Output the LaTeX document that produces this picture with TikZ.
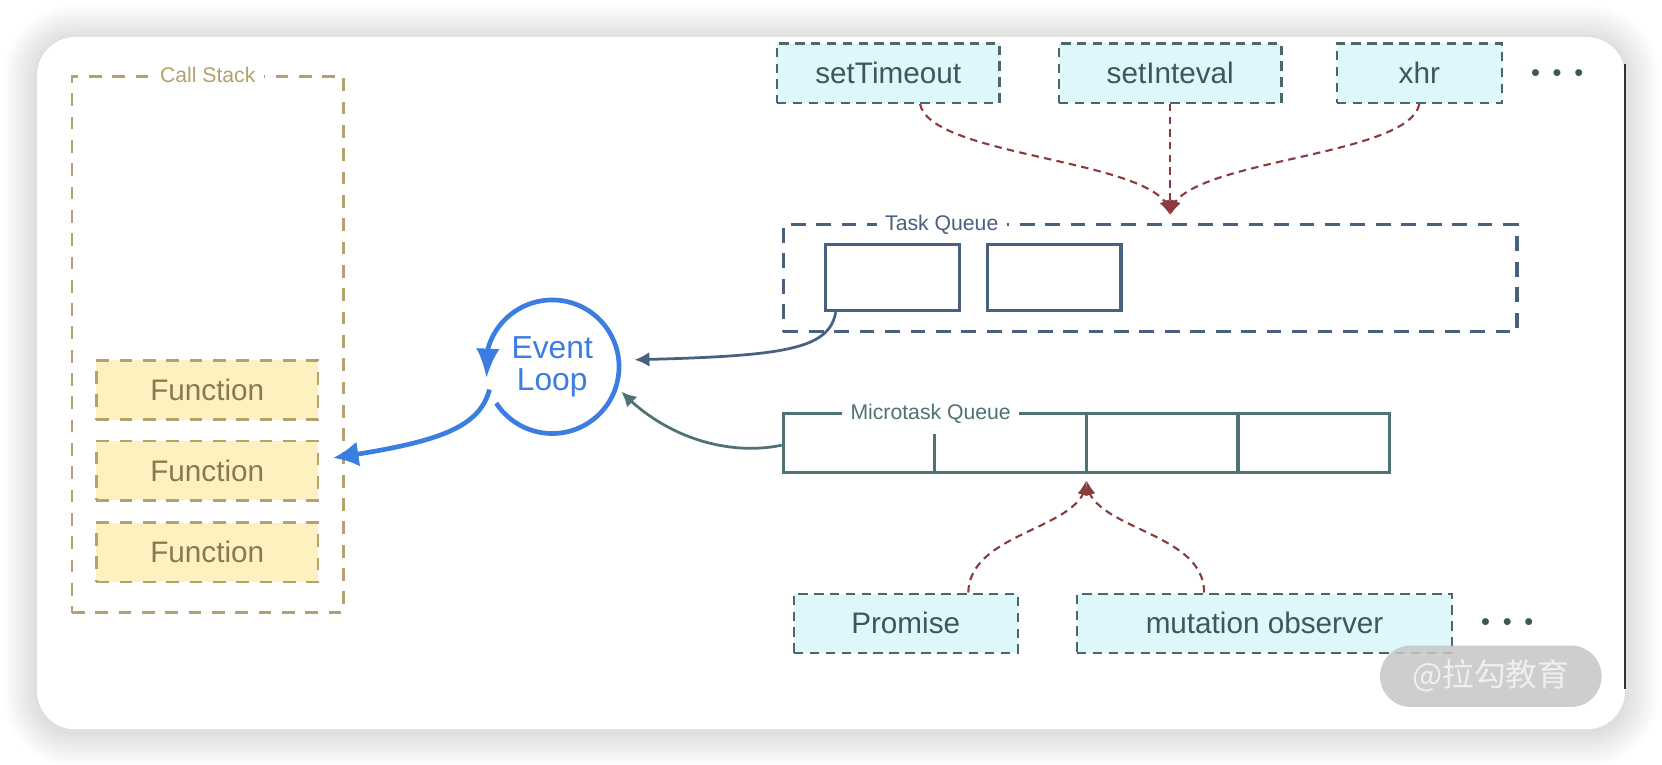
\documentclass[tikz,border=0pt]{standalone}
\usepackage{fontspec}
\setmainfont{Liberation Sans}
\newfontfamily\cjkfont{Noto Sans CJK SC}
\usetikzlibrary{arrows.meta,bending}

\definecolor{stackline}{HTML}{B3A26E}
\definecolor{funcfill}{HTML}{FDF1C0}
\definecolor{functext}{HTML}{877A4F}
\definecolor{loopblue}{HTML}{3B7DE0}
\definecolor{taskline}{HTML}{48617F}
\definecolor{microline}{HTML}{4E7374}
\definecolor{apifill}{HTML}{DEF7FA}
\definecolor{apiline}{HTML}{4D6668}
\definecolor{apitext}{HTML}{3D575A}
\definecolor{feedred}{HTML}{8C3B3D}

\tikzset{
  stackbox/.style={draw=stackline, line width=1.2pt, dash pattern=on 6pt off 5pt,
    minimum width=128pt, minimum height=253pt, inner sep=0pt},
  funcbox/.style={draw=stackline, fill=funcfill, text=functext, line width=1.2pt,
    dash pattern=on 6pt off 5pt, minimum width=104.5pt, minimum height=28pt,
    inner sep=0pt, font=\fontsize{14}{16}\selectfont},
  apibox/.style={draw=apiline, fill=apifill, text=apitext, line width=1pt,
    dash pattern=on 4.5pt off 3pt, minimum height=28pt, inner sep=0pt,
    font=\fontsize{14}{16}\selectfont},
  queuebox/.style={draw=taskline, line width=1.6pt, dash pattern=on 7pt off 5pt,
    minimum width=346pt, minimum height=50.5pt, inner sep=0pt},
  slot/.style={draw=taskline, line width=1.5pt, minimum width=63pt,
    minimum height=31pt, inner sep=0pt},
  microbox/.style={draw=microline, line width=1.5pt, minimum width=286pt,
    minimum height=28pt, inner sep=0pt},
  qlabel/.style={fill=white, inner xsep=4pt, inner ysep=1pt,
    font=\fontsize{10}{12}\selectfont},
  dots/.style={text=apitext, font=\fontsize{12}{12}\selectfont},
  feed/.style={draw=feedred, line width=1pt, dash pattern=on 3.5pt off 2.5pt,
    -{Latex[length=7pt,width=5pt]}},
}

\begin{document}
\begin{tikzpicture}[x=0.5pt, y=-0.5pt]
\useasboundingbox (0,0) rectangle (1568,721);
% card with soft shadow
\foreach \s in {1,...,16}
  \fill[black, opacity=0.009, rounded corners=18pt+\s*1pt]
    (35-2*\s,37-2*\s) rectangle (1533+2*\s,691+2*\s);
\fill[white, rounded corners=18pt] (35,35) rectangle (1533,688);
\draw[black!80, line width=0.8pt] (1533,60) -- (1533,650);

% call stack
\node[stackbox] (stack) at (196,325) {};
\node[qlabel, text=stackline] (stacklabel) at (stack.north) {Call Stack};
\node[funcbox] (f1) at (195.5,368) {Function};
\node[funcbox] (f2) at (195.5,444) {Function};
\node[funcbox] (f3) at (195.5,521) {Function};

% event loop
\node[circle, minimum size=63pt, inner sep=0pt, outer sep=0pt, align=center,
  text=loopblue, font=\fontsize{15}{15}\selectfont] (loop) at (521,346) {Event\\Loop};
\draw[loopblue, line width=2.2pt, -{Latex[length=14pt,width=11pt]}]
  (loop.213) arc[start angle=213, end angle=550, radius=31.5pt];
\draw[loopblue, line width=2.2pt, -{Latex[length=12pt,width=12pt]}]
  (loop.200) .. controls (452,405) and (410,418) .. ([shift={(13,-12)}]f2.east);

% web apis
\node[apibox, minimum width=105pt] (st1) at (838,69) {setTimeout};
\node[apibox, minimum width=105pt] (st2) at (1104,69) {setInteval};
\node[apibox, minimum width=78pt] (xhr) at (1339,69) {xhr};
\node[dots] (moreapi) at (1469,71) {\textbullet\hspace{6pt}\textbullet\hspace{6pt}\textbullet};

% task queue
\node[queuebox] (tq) at (1085,262.5) {};
\node[qlabel, text=taskline] (tasklabel) at (888.5,212) {Task Queue};
\node[slot] (t1) at (842,262) {};
\node[slot] (t2) at (994.5,262) {};
\coordinate (taskin) at (1104,203);
\draw[feed] ([xshift=15pt]st1.south) .. controls (878,150) and (1104,150) .. (taskin);
\draw[feed] (st2.south) -- (taskin);
\draw[feed] (xhr.south) .. controls (1330,150) and (1104,150) .. (taskin);
\draw[taskline, line width=1.3pt, -{Latex[length=7pt,width=7pt]}]
  ([xshift=5.5pt]t1.south west) .. controls (782,330) and (740,336) .. ([xshift=7.5pt]loop.6);

% microtask queue
\node[microbox] (micro) at (1025,418) {};
\node[qlabel, text=microline] (microlabel) at (878,390) {Microtask Queue};
\draw[microline, line width=1.5pt] ([xshift=-71.5pt,yshift=-10.5pt]micro.north) -- ([xshift=-71.5pt]micro.south);
\draw[microline, line width=1.5pt] (micro.north) -- (micro.south);
\draw[microline, line width=1.5pt] ([xshift=71.5pt]micro.north) -- ([xshift=71.5pt]micro.south);
\draw[microline, line width=1.3pt, -{Latex[length=7pt,width=7pt]}]
  ([yshift=-1pt]micro.west) .. controls (690,430) and (630,415) .. ([xshift=3pt,yshift=-1pt]loop.-20);

% microtask sources
\node[apibox, minimum width=105.5pt] (promise) at (854.5,588) {Promise};
\node[apibox, minimum width=177pt] (mutation) at (1193,588) {mutation observer};
\node[dots] (moremicro) at (1422,589) {\textbullet\hspace{6pt}\textbullet\hspace{6pt}\textbullet};
\coordinate (microin) at (1025,453);
\draw[feed] ([xshift=29.5pt]promise.north) .. controls (915,500) and (1025,500) .. (microin);
\draw[feed] ([xshift=-28.5pt]mutation.north) .. controls (1136,500) and (1025,500) .. (microin);

% watermark
\node[fill=gray!45, opacity=0.85, text=white!92!gray, rounded corners=14.5pt,
  minimum width=104.5pt, minimum height=29pt, font=\cjkfont\fontsize{15}{15}\selectfont]
  (wmark) at (1406.5,638) {@拉勾教育};
\end{tikzpicture}
\end{document}
